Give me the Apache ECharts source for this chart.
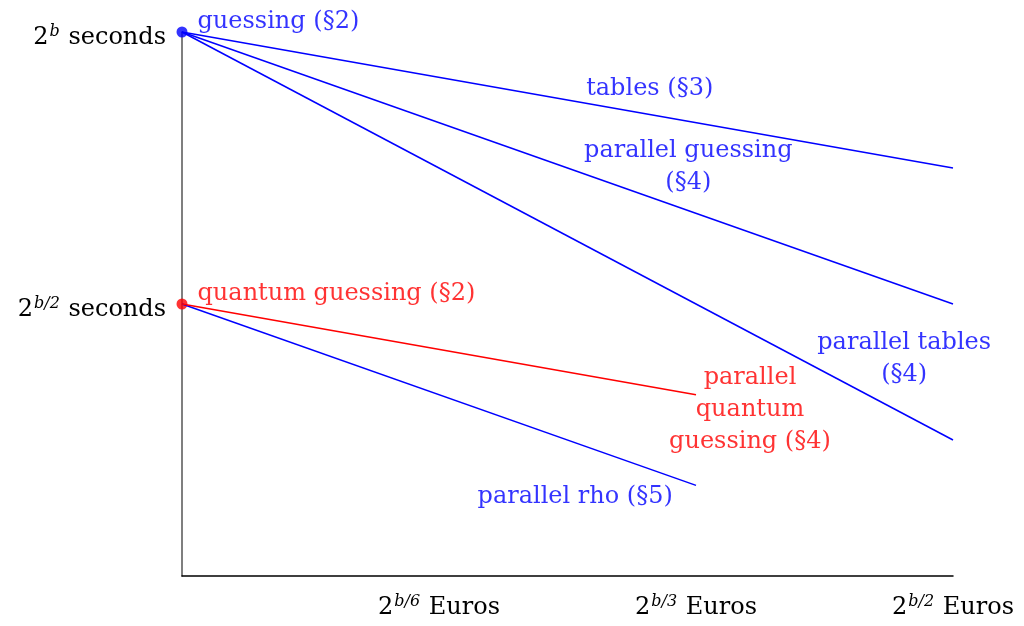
<!DOCTYPE html>
<html lang="en">
<head>
    <meta charset="UTF-8">
    <title>cost vs time</title>
    <script src="https://cdn.jsdelivr.net/npm/echarts@6/dist/echarts.min.js"></script>
    <style>
        html, body { margin: 0; padding: 0; background: #fff; }
        #main { width: 1024px; height: 626px; }
    </style>
</head>
<body>
<div id="main"></div>
<script type="text/javascript">
    // x: log2(Euros) in units of b/6, y: log2(seconds) in units of b/6
    var xTicks = {1: '2{sup|b/6} Euros', 2: '2{sup|b/3} Euros', 3: '2{sup|b/2} Euros'};
    var yTicks = {3: '2{sup|b/2} seconds', 6: '2{sup|b} seconds'};

    var tablesLine = [[0, 6], [3, 4.5]];
    var parGuessLine = [[0, 6], [3, 3]];
    var parTablesLine = [[0, 6], [3, 1.5]];
    var quantumLine = [[0, 3], [2, 2]];
    var rhoLine = [[0, 3], [2, 1]];

    var blueDots = [[0, 6]];
    var redDots = [[0, 3]];

    // labels in data coordinates
    var blueLabels = [
        ['tables (§3)', 1.82, 5.37],
        ['parallel guessing\n(§4)', 1.97, 4.51],
        ['parallel tables\n(§4)', 2.81, 2.40],
        ['parallel rho (§5)', 1.53, 0.87]
    ];
    var redLabels = [
        ['parallel\nquantum\nguessing (§4)', 2.21, 1.83]
    ];

    var BLUE = '#0000ff';
    var RED = '#ff0000';
    var FONT = 'DejaVu Serif';
    var SIZE = 24;

    var myChart = echarts.init(document.getElementById('main'));

    function lineSeries(data, color) {
        return {
            type: 'line',
            data: data,
            symbol: 'none',
            silent: true,
            lineStyle: {color: color, width: 1.5}
        };
    }

    function labelSeries(list, color) {
        return {
            type: 'scatter',
            symbolSize: 0,
            silent: true,
            data: list.map(function (l) { return {value: [l[1], l[2]], name: l[0]}; }),
            label: {
                show: true,
                position: 'inside',
                formatter: '{b}',
                color: color,
                fontFamily: FONT,
                fontSize: SIZE,
                lineHeight: 32,
                align: 'center',
                verticalAlign: 'middle'
            }
        };
    }

    var supStyle = {fontFamily: FONT, fontSize: 16, fontStyle: 'italic', verticalAlign: 'top', padding: [0, 1, 12, 1], color: '#000'};

    var option = {
        animation: false,
        grid: {left: 182, right: 71, top: 32, bottom: 50},
        xAxis: {
            type: 'value',
            min: 0,
            max: 3,
            interval: 1,
            axisLine: {show: true, lineStyle: {color: '#000', width: 1.5}},
            axisTick: {show: false},
            splitLine: {show: false},
            axisLabel: {
                margin: 18,
                color: '#000',
                fontFamily: FONT,
                fontSize: SIZE,
                formatter: function (v) { return xTicks[v] || ''; },
                rich: {sup: supStyle}
            }
        },
        yAxis: {
            type: 'value',
            min: 0,
            max: 6,
            interval: 3,
            axisLine: {show: true, lineStyle: {color: '#555', width: 1.5}},
            axisTick: {show: false},
            splitLine: {show: false},
            axisLabel: {
                margin: 16,
                padding: [12, 0, 0, 0],
                color: '#000',
                fontFamily: FONT,
                fontSize: SIZE,
                formatter: function (v) { return yTicks[v] || ''; },
                rich: {sup: supStyle}
            }
        },
        series: [
            lineSeries(tablesLine, BLUE),
            lineSeries(parGuessLine, BLUE),
            lineSeries(parTablesLine, BLUE),
            lineSeries(rhoLine, BLUE),
            lineSeries(quantumLine, RED),
            {
                type: 'scatter',
                data: blueDots,
                symbolSize: 11,
                itemStyle: {color: BLUE},
                label: {show: true, position: 'right', distance: 10, offset: [0, -10], formatter: 'guessing (§2)', color: BLUE, fontFamily: FONT, fontSize: SIZE}
            },
            {
                type: 'scatter',
                data: redDots,
                symbolSize: 11,
                itemStyle: {color: RED},
                label: {show: true, position: 'right', distance: 10, offset: [0, -10], formatter: 'quantum guessing (§2)', color: RED, fontFamily: FONT, fontSize: SIZE}
            },
            labelSeries(blueLabels, BLUE),
            labelSeries(redLabels, RED)
        ]
    };
    myChart.setOption(option);
</script>
</body>
</html>
